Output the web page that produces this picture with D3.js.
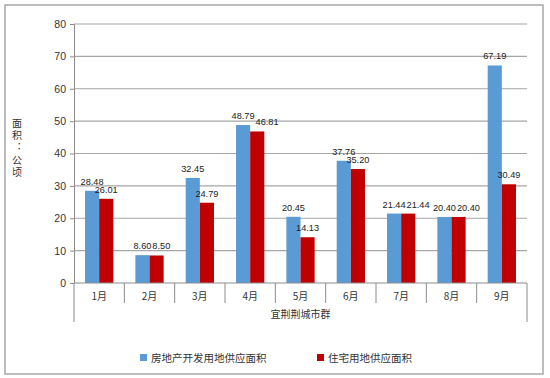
<!DOCTYPE html>
<html>
<head>
<meta charset="utf-8">
<script src="https://cdn.jsdelivr.net/npm/d3@7"></script>
<style>
    body { margin: 0; background: #ffffff; }
</style>
</head>
<body>
<div id="canvas"></div>
<script>
"use strict"

/* Data */
let months = ["1月", "2月", "3月", "4月", "5月", "6月", "7月", "8月", "9月"];
let seriesNames = ["房地产开发用地供应面积", "住宅用地供应面积"];
let devLand = [28.48, 8.60, 32.45, 48.79, 20.45, 37.76, 21.44, 20.40, 67.19];
let houseLand = [26.01, 8.50, 24.79, 46.81, 14.13, 35.20, 21.44, 20.40, 30.49];
let yTicks = [0, 10, 20, 30, 40, 50, 60, 70, 80];
let groupLabel = "宜荆荆城市群";
let yTitle = "面积：公顷";

/* Configuration variables: drawing */
let svgWidth = 550;
let svgHeight = 378;
let leftMargin = 74;
let rightEdge = 527;
let topMargin = 24;
let axisY = 283;
let colors = ["#5b9bd5", "#c00000"];
let numFont = "'Liberation Sans', Arial, sans-serif";
let cjkFont = "'Noto Sans CJK SC', sans-serif";

let svg = d3.select("#canvas")
    .append("svg")
    .attr("width", svgWidth)
    .attr("height", svgHeight);

/* outer frame */
svg.append("rect")
    .attr("x", 5)
    .attr("y", 5)
    .attr("width", 538)
    .attr("height", 369)
    .attr("fill", "#ffffff")
    .attr("stroke", "#a8a8a8")
    .attr("stroke-width", 1.5);

/* scales */
let xScale = d3.scaleBand()
    .domain(months)
    .range([leftMargin, rightEdge]);

let xInner = d3.scaleBand()
    .domain([0, 1])
    .range([0, xScale.bandwidth()])
    .paddingInner(0)
    .paddingOuter(0.78);

let yScale = d3.scaleLinear()
    .domain([0, 80])
    .range([axisY, topMargin]);

/* gridlines */
svg.selectAll(".grid")
    .data(yTicks.slice(1))
    .join("line")
    .attr("x1", leftMargin)
    .attr("x2", rightEdge)
    .attr("y1", d => yScale(d))
    .attr("y2", d => yScale(d))
    .attr("stroke", "#a6a6a6")
    .attr("stroke-width", 1.2);

/* y axis */
let yAxis = d3.axisLeft(yScale)
    .tickValues(yTicks)
    .tickSize(4)
    .tickPadding(4);

let yAxisG = svg.append("g")
    .attr("transform", `translate(${leftMargin},0)`)
    .call(yAxis);
yAxisG.select(".domain").attr("stroke", "#8c8c8c");
yAxisG.selectAll(".tick line").attr("stroke", "#8c8c8c");
yAxisG.selectAll("text")
    .attr("font-family", numFont)
    .attr("font-size", 10.5)
    .attr("fill", "#333333");

/* bars */
let rows = months.map((m, i) => ({ month: m, values: [devLand[i], houseLand[i]] }));

let groups = svg.selectAll(".group")
    .data(rows)
    .join("g")
    .attr("transform", d => `translate(${xScale(d.month)},0)`);

groups.selectAll("rect")
    .data(d => d.values.map((v, k) => ({ k: k, v: v })))
    .join("rect")
    .attr("x", d => xInner(d.k))
    .attr("width", xInner.bandwidth())
    .attr("y", d => yScale(d.v))
    .attr("height", d => axisY - yScale(d.v))
    .attr("fill", d => colors[d.k]);

/* value labels */
groups.selectAll("text")
    .data(d => d.values.map((v, k) => ({ k: k, v: v })))
    .join("text")
    .attr("x", d => xInner(d.k) + xInner.bandwidth() / 2)
    .attr("y", d => yScale(d.v) - 6)
    .attr("text-anchor", "middle")
    .attr("font-family", numFont)
    .attr("font-size", 9.2)
    .attr("fill", "#222222")
    .text(d => d.v.toFixed(2));

/* when the two labels of a month sit at almost the same height,
   push the red one right so it starts after the blue one */
groups.each(function () {
    let labels = d3.select(this).selectAll("text").nodes();
    let blue = labels[0];
    let red = labels[1];
    let dy = Math.abs(+blue.getAttribute("y") - +red.getAttribute("y"));
    if (dy < 7) {
        let blueRight = +blue.getAttribute("x") + blue.getComputedTextLength() / 2;
        let redHalf = red.getComputedTextLength() / 2;
        let redLeft = +red.getAttribute("x") - redHalf;
        if (redLeft < blueRight + 1) {
            red.setAttribute("x", blueRight + 1 + redHalf);
        }
    }
});

/* x axis line and category separators */
svg.append("line")
    .attr("x1", leftMargin)
    .attr("x2", rightEdge)
    .attr("y1", axisY)
    .attr("y2", axisY)
    .attr("stroke", "#8c8c8c");

let sepX = months.slice(1).map(m => xScale(m));
svg.selectAll(".sep")
    .data(sepX)
    .join("line")
    .attr("x1", d => d)
    .attr("x2", d => d)
    .attr("y1", axisY)
    .attr("y2", axisY + 20)
    .attr("stroke", "#8c8c8c");

/* outer group lines */
svg.selectAll(".outer")
    .data([leftMargin, rightEdge])
    .join("line")
    .attr("x1", d => d)
    .attr("x2", d => d)
    .attr("y1", axisY)
    .attr("y2", axisY + 39)
    .attr("stroke", "#8c8c8c");

/* month labels */
svg.selectAll(".month")
    .data(months)
    .join("text")
    .attr("x", d => xScale(d) + xScale.bandwidth() / 2)
    .attr("y", axisY + 17)
    .attr("text-anchor", "middle")
    .attr("font-family", cjkFont)
    .attr("font-size", 10)
    .attr("fill", "#333333")
    .text(d => d);

/* group label */
svg.append("text")
    .attr("x", (leftMargin + rightEdge) / 2)
    .attr("y", axisY + 35)
    .attr("text-anchor", "middle")
    .attr("font-family", cjkFont)
    .attr("font-size", 10)
    .attr("fill", "#333333")
    .text(groupLabel);

/* y axis title, written top to bottom */
svg.append("text")
    .attr("x", 17)
    .attr("y", 118)
    .attr("writing-mode", "vertical-rl")
    .attr("letter-spacing", 2.3)
    .attr("font-family", cjkFont)
    .attr("font-size", 10)
    .attr("fill", "#333333")
    .text(yTitle);

/* legend */
let legendX = [140, 317];
for (let i = 0; i < 2; i++) {
    svg.append("rect")
        .attr("x", legendX[i])
        .attr("y", 354)
        .attr("width", 7)
        .attr("height", 7)
        .attr("fill", colors[i]);

    svg.append("text")
        .attr("x", legendX[i] + 11)
        .attr("y", 361.5)
        .attr("font-family", cjkFont)
        .attr("font-size", 10.5)
        .attr("fill", "#333333")
        .text(seriesNames[i]);
}
</script>
</body>
</html>
